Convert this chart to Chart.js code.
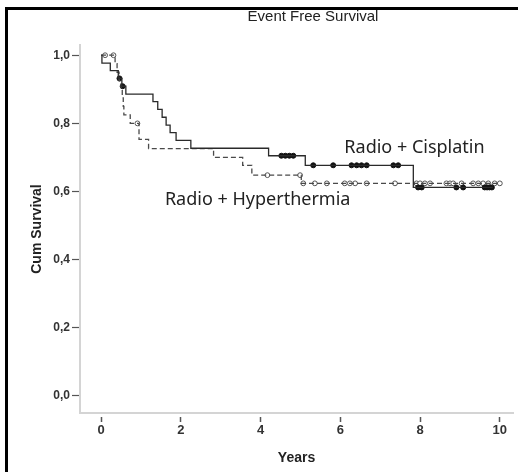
<!DOCTYPE html>
<html>
<head>
<meta charset="utf-8">
<script src="https://cdn.jsdelivr.net/npm/chart.js@4"></script>
<style>
  html, body { margin: 0; padding: 0; background: #fff; overflow: hidden; }
  #wrap { position: relative; width: 518px; height: 472px; overflow: hidden; }
  #frame { position: absolute; left: 5px; top: 7px; width: 800px; height: 600px;
           border-left: 3px solid #000; border-top: 3px solid #000; }
  #box { position: absolute; left: 0; top: 0; width: 518px; height: 472px; }
</style>
</head>
<body>
<div id="wrap">
  <div id="frame"></div>
  <div id="box"><canvas id="kmChart"></canvas></div>
</div>
<script>
// Radio + Cisplatin (solid line, filled censor marks)
const cispTimes = [0, 0.02, 0.23, 0.43, 0.52, 0.62, 1.30, 1.42, 1.53, 1.63, 1.73, 1.88, 2.25, 4.20, 5.12, 7.83, 9.82];
const cispSurv  = [1, 0.977, 0.955, 0.932, 0.909, 0.886, 0.864, 0.841, 0.818, 0.795, 0.773, 0.750, 0.727, 0.705, 0.677, 0.612, 0.612];
const cispCensTimes = [0.46, 0.54, 4.52, 4.62, 4.72, 4.82, 5.32, 5.82, 6.28, 6.41, 6.53, 6.66, 7.33, 7.45, 7.95, 8.04, 8.91, 9.08, 9.62, 9.68, 9.74, 9.80];
const cispCensSurv  = [0.932, 0.909, 0.705, 0.705, 0.705, 0.705, 0.677, 0.677, 0.677, 0.677, 0.677, 0.677, 0.677, 0.677, 0.612, 0.612, 0.612, 0.612, 0.612, 0.612, 0.612, 0.612];

// Radio + Hyperthermia (dashed line, open censor marks)
const hypTimes = [0, 0.35, 0.40, 0.45, 0.50, 0.53, 0.555, 0.57, 0.73, 0.95, 1.19, 2.82, 3.55, 3.78, 5.02, 10.0];
const hypSurv  = [1, 0.975, 0.95, 0.925, 0.90, 0.875, 0.85, 0.825, 0.80, 0.753, 0.726, 0.70, 0.677, 0.648, 0.624, 0.624];
const hypCensTimes = [0.10, 0.31, 0.91, 4.17, 4.99, 5.07, 5.36, 5.66, 6.11, 6.24, 6.37, 6.66, 7.37, 7.91, 8.00, 8.12, 8.25, 8.66, 8.75, 8.83, 9.04, 9.33, 9.46, 9.58, 9.71, 9.87, 10.0];
const hypCensSurv  = [1, 1, 0.80, 0.648, 0.648, 0.624, 0.624, 0.624, 0.624, 0.624, 0.624, 0.624, 0.624, 0.624, 0.624, 0.624, 0.624, 0.624, 0.624, 0.624, 0.624, 0.624, 0.624, 0.624, 0.624, 0.624, 0.624];

const xTicks = [0, 2, 4, 6, 8, 10];
const yTicks = [0, 0.2, 0.4, 0.6, 0.8, 1.0];

const chartTitle = 'Event Free Survival';

// curve labels, placed in data coordinates
const curveLabels = [
  { text: 'Radio + Cisplatin', x: 6.1, y: 0.727 },
  { text: 'Radio + Hyperthermia', x: 1.6, y: 0.575 }
];

const toPoints = (xs, ys) => xs.map((x, i) => ({ x: x, y: ys[i] }));

// title sits a little right of the plot centre, as in the SPSS export
const textPlugin = {
  id: 'chartTexts',
  afterDatasetsDraw(chart) {
    const ctx = chart.ctx;
    const xs = chart.scales.x, ys = chart.scales.y;
    ctx.save();
    ctx.fillStyle = '#222';
    ctx.textBaseline = 'middle';
    ctx.textAlign = 'center';
    ctx.font = '15px "Liberation Sans"';
    ctx.fillText(chartTitle, chart.chartArea.left + 233, 17);
    ctx.textAlign = 'left';
    ctx.font = '18px "Noto Sans"';
    curveLabels.forEach(l => ctx.fillText(l.text, xs.getPixelForValue(l.x), ys.getPixelForValue(l.y)));
    ctx.restore();
  }
};

const axisTitleFont = { family: 'Liberation Sans', size: 14, weight: 'bold' };

new Chart(document.getElementById('kmChart').getContext('2d'), {
  type: 'scatter',
  data: {
    datasets: [
      {
        data: toPoints(cispTimes, cispSurv),
        showLine: true, stepped: 'before',
        borderColor: '#2a2a2a', borderWidth: 1.3,
        pointRadius: 0
      },
      {
        data: toPoints(hypTimes, hypSurv),
        showLine: true, stepped: 'before',
        borderColor: '#4a4a4a', borderWidth: 1.3, borderDash: [5, 3],
        pointRadius: 0
      },
      {
        data: toPoints(cispCensTimes, cispCensSurv),
        showLine: false,
        pointRadius: 2.5, pointBackgroundColor: '#111', pointBorderColor: '#111', pointBorderWidth: 1
      },
      {
        data: toPoints(hypCensTimes, hypCensSurv),
        showLine: false,
        pointRadius: 2.4, pointBackgroundColor: '#fff', pointBorderColor: '#555', pointBorderWidth: 1
      }
    ]
  },
  options: {
    responsive: true,
    maintainAspectRatio: false,
    animation: false,
    layout: { padding: { left: 0, right: 0, top: 45, bottom: 0 } },
    plugins: {
      legend: { display: false },
      tooltip: { enabled: false },
      title: { display: false }
    },
    scales: {
      x: {
        type: 'linear',
        min: -0.53, max: 10.33,
        afterBuildTicks: s => { s.ticks = xTicks.map(v => ({ value: v })); },
        afterFit: s => { s.height = 59; },
        border: { display: true, color: '#d4d4d4', width: 2 },
        grid: { drawOnChartArea: false, drawTicks: true, tickLength: 9, tickColor: '#555', tickWidth: 1.5, tickBorderDash: [0, 3, 6, 100] },
        ticks: { color: '#333', font: { family: 'Liberation Sans', size: 13, weight: 'bold' }, padding: 1, maxRotation: 0 },
        title: { display: true, text: 'Years', color: '#222', font: axisTitleFont, padding: { top: 0, bottom: 5 } }
      },
      y: {
        type: 'linear',
        min: -0.05, max: 1.03,
        afterBuildTicks: s => { s.ticks = yTicks.map(v => ({ value: v })); },
        afterFit: s => { s.width = 80; },
        border: { display: true, color: '#d4d4d4', width: 2 },
        grid: { drawOnChartArea: false, drawTicks: true, tickLength: 8, tickColor: '#555', tickWidth: 1.2 },
        ticks: { color: '#333', font: { family: 'Liberation Sans', size: 12, weight: 'bold' }, padding: 2, callback: v => v.toFixed(1).replace('.', ',') },
        title: { display: true, text: 'Cum Survival', color: '#222', font: axisTitleFont, padding: { top: 29, bottom: 0 } }
      }
    }
  },
  plugins: [textPlugin]
});
</script>
</body>
</html>
